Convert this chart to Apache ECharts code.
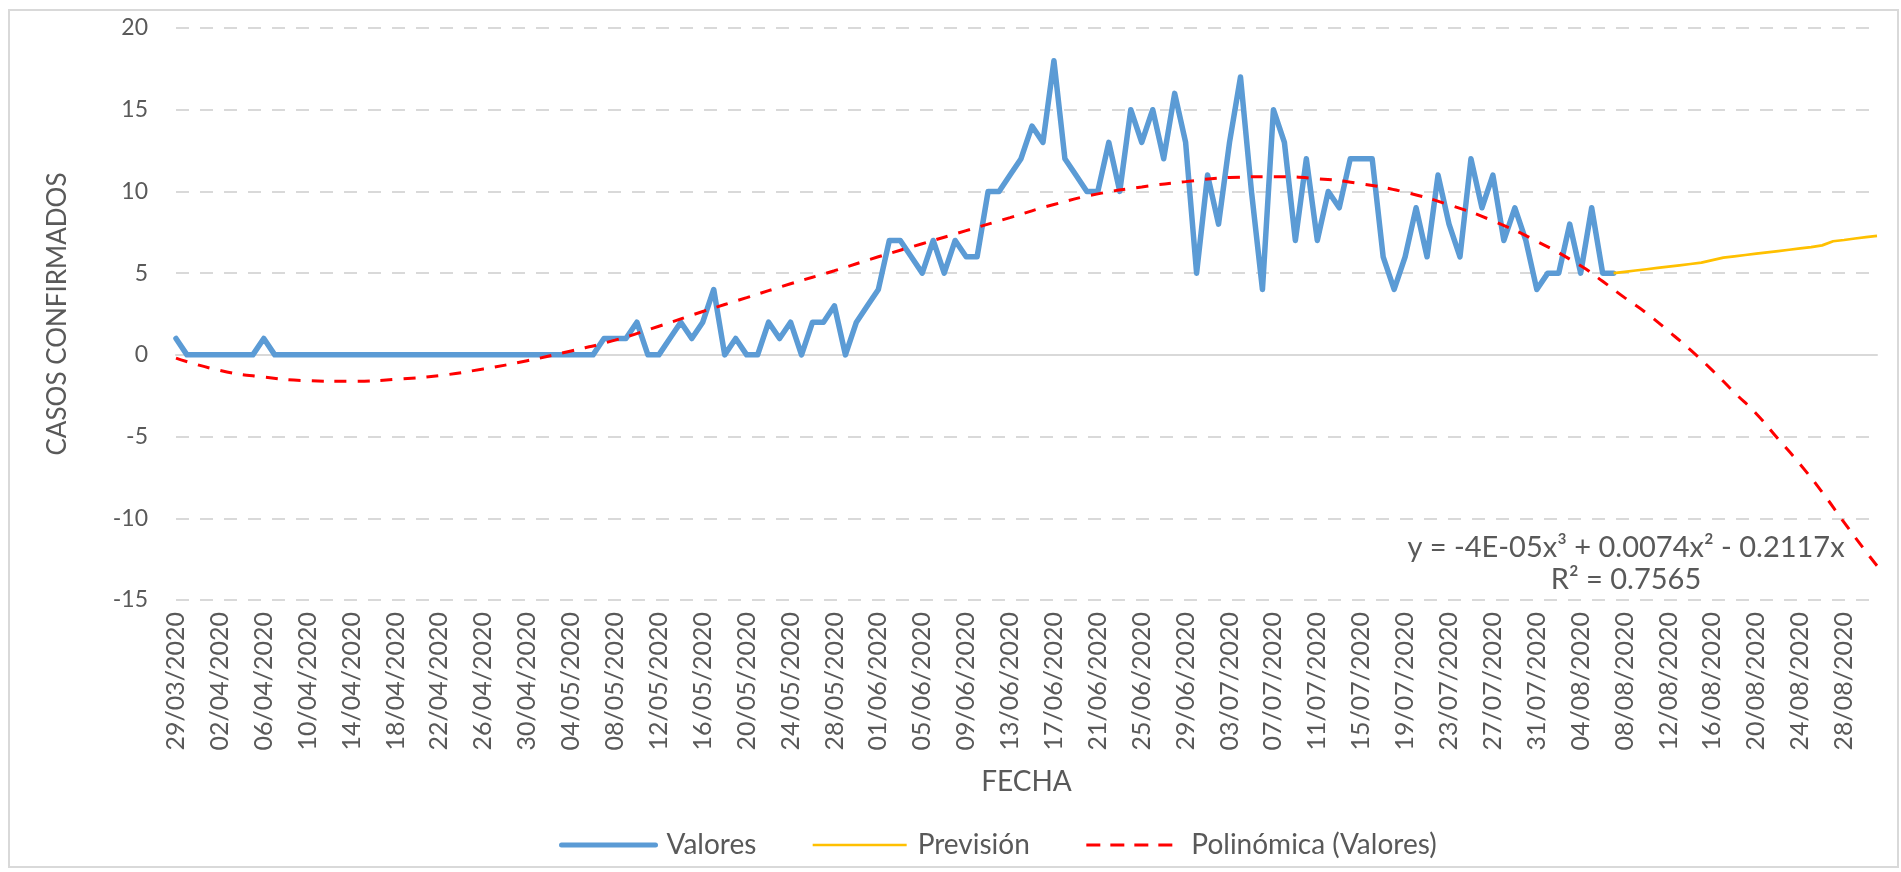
<!DOCTYPE html>
<html>
<head>
<meta charset="utf-8">
<title>Casos confirmados</title>
<script src="https://cdn.jsdelivr.net/npm/echarts@6/dist/echarts.min.js"></script>
<style>
    html, body { margin: 0; padding: 0; background: #fff; }
    #chart { width: 1901px; height: 872px; }
</style>
</head>
<body>
<div id="chart"></div>
<script>
// eje de fechas: un dia por categoria, del 29/03/2020 al 31/08/2020
var primerDia = [2020, 2, 29];
var numDias = 156;

// casos confirmados diarios (29/03 .. 07/08)
var valores = [
    1, 0, 0, 0, 0, 0, 0, 0, 1, 0,
    0, 0, 0, 0, 0, 0, 0, 0, 0, 0,
    0, 0, 0, 0, 0, 0, 0, 0, 0, 0,
    0, 0, 0, 0, 0, 0, 0, 0, 0, 1,
    1, 1, 2, 0, 0, 1, 2, 1, 2, 4,
    0, 1, 0, 0, 2, 1, 2, 0, 2, 2,
    3, 0, 2, 3, 4, 7, 7, 6, 5, 7,
    5, 7, 6, 6, 10, 10, 11, 12, 14, 13,
    18, 12, 11, 10, 10, 13, 10, 15, 13, 15,
    12, 16, 13, 5, 11, 8, 13, 17, 10, 4,
    15, 13, 7, 12, 7, 10, 9, 12, 12, 12,
    6, 4, 6, 9, 6, 11, 8, 6, 12, 9,
    11, 7, 9, 7, 4, 5, 5, 8, 5, 9,
    5, 5
];

// prevision, empieza el 07/08 (posicion 131)
var inicioPrevision = 131;
var prevision = [
    5.00, 5.08, 5.16, 5.24, 5.32, 5.40, 5.48, 5.56, 5.64, 5.80,
    5.95, 6.03, 6.11, 6.19, 6.27, 6.35, 6.43, 6.51, 6.59, 6.70,
    6.95, 7.03, 7.12, 7.20, 7.28
];

// linea de tendencia polinomica (posicion del dia, valor)
var tendDias = [0, 4, 8, 12, 16, 20, 24, 28, 32, 36, 40, 44, 48, 52, 56, 60,
    64, 68, 72, 76, 80, 84, 88, 92, 96, 100, 104, 108, 112, 116, 120, 124,
    128, 130, 132, 134, 136, 138, 140, 142, 144, 146, 148, 150, 152, 154, 155];
var tendValores = [-0.2, -0.95, -1.36, -1.58, -1.62, -1.5, -1.27, -0.86, -0.36, 0.24,
    0.9, 1.75, 2.65, 3.5, 4.35, 5.15, 6.0, 6.8, 7.6, 8.4,
    9.2, 9.85, 10.27, 10.6, 10.85, 10.9, 10.78, 10.47, 9.95, 9.18,
    8.2, 6.95, 5.45, 4.5, 3.5, 2.55, 1.45, 0.3, -0.95, -2.3,
    -3.6, -5.15, -6.7, -8.4, -10.25, -12.05, -12.9];

var yMin = -15;
var yMax = 20;
var yPaso = 5;

var ecuacion = 'y = -4E-05x³ + 0.0074x² - 0.2117x';
var r2 = 'R² = 0.7565';

var gris = '#595959';
var fuente = 'Lato';

function fechas() {
    var lista = []
    var d = new Date(primerDia[0], primerDia[1], primerDia[2], 12)
    for (let i = 0; i < numDias; i++) {
        var dd = ('0' + d.getDate()).slice(-2)
        var mm = ('0' + (d.getMonth() + 1)).slice(-2)
        lista.push(dd + '/' + mm + '/' + d.getFullYear())
        d.setDate(d.getDate() + 1)
    }
    return lista
}

function drawChart(chartDiv) {
    var dias = fechas();

    var datosPrevision = [];
    for (let i = 0; i < inicioPrevision; i++) {
        datosPrevision.push(null)
    }
    datosPrevision = datosPrevision.concat(prevision);

    var datosTend = [];
    for (let i = 0; i < tendDias.length; i++) {
        datosTend.push([tendDias[i], tendValores[i]])
    }

    var myChart = echarts.init(chartDiv);

    var option = {
        backgroundColor: '#fff',
        animation: false,
        textStyle: { fontFamily: fuente },
        grid: {
            left: 176,
            right: 24,
            top: 28,
            bottom: 272,
            outerBoundsMode: 'none'
        },
        legend: {
            data: [
                { name: 'Valores', itemStyle: { opacity: 0 }, lineStyle: { width: 5 } },
                { name: 'Previsión', itemStyle: { opacity: 0 }, lineStyle: { width: 2.7 } },
                { name: 'Polinómica (Valores)', itemStyle: { opacity: 0 }, lineStyle: { width: 3, type: [14, 10] } }
            ],
            left: 554,
            top: 826,
            itemWidth: 94,
            itemHeight: 14,
            itemGap: 55,
            textStyle: {
                fontSize: 28,
                color: gris,
                fontFamily: fuente,
                padding: [0, 0, 0, 6]
            }
        },
        xAxis: [
            {
                type: 'category',
                data: dias,
                boundaryGap: false,
                name: 'FECHA',
                nameLocation: 'middle',
                nameGap: 168,
                nameTextStyle: { fontSize: 28, color: gris, fontFamily: fuente },
                axisLine: { show: false, onZero: false },
                axisTick: { show: false },
                axisLabel: {
                    interval: 3,
                    rotate: 90,
                    fontSize: 25,
                    color: gris,
                    fontFamily: fuente,
                    margin: 12
                },
                splitLine: { show: false }
            },
            {
                // linea del cero
                type: 'category',
                data: dias,
                boundaryGap: false,
                position: 'top',
                axisLine: { show: true, onZero: true, lineStyle: { color: '#D9D9D9', width: 2 } },
                axisTick: { show: false },
                axisLabel: { show: false },
                splitLine: { show: false }
            }
        ],
        yAxis: {
            type: 'value',
            min: yMin,
            max: yMax,
            interval: yPaso,
            name: 'CASOS CONFIRMADOS',
            nameLocation: 'middle',
            nameGap: 105,
            nameTextStyle: { fontSize: 26, color: gris, fontFamily: fuente },
            axisLine: { show: false },
            axisTick: { show: false },
            axisLabel: { fontSize: 23, color: gris, fontFamily: fuente, margin: 28 },
            splitLine: {
                lineStyle: { color: '#D9D9D9', width: 2, type: [13, 11] }
            }
        },
        series: [
            {
                name: 'Valores',
                type: 'line',
                data: valores,
                symbol: 'none',
                z: 3,
                lineStyle: { color: '#5B9BD5', width: 5.5, join: 'round', cap: 'round' },
                itemStyle: { color: '#5B9BD5' }
            },
            {
                name: 'Previsión',
                type: 'line',
                data: datosPrevision,
                symbol: 'none',
                z: 3,
                lineStyle: { color: '#FFC000', width: 2.7 },
                itemStyle: { color: '#FFC000' }
            },
            {
                name: 'Polinómica (Valores)',
                type: 'line',
                data: datosTend,
                smooth: true,
                symbol: 'none',
                z: 4,
                lineStyle: { color: '#FF0000', width: 3, type: [12, 11] },
                itemStyle: { color: '#FF0000' }
            }
        ],
        graphic: [
            {
                type: 'rect',
                silent: true,
                shape: { x: 9, y: 10, width: 1889, height: 857 },
                style: { fill: 'none', stroke: '#D9D9D9', lineWidth: 2 }
            },
            {
                type: 'text',
                silent: true,
                z: 10,
                style: {
                    text: ecuacion + '\n' + r2,
                    x: 1626,
                    y: 564,
                    align: 'center',
                    verticalAlign: 'middle',
                    fontSize: 29,
                    lineHeight: 32,
                    fontFamily: fuente,
                    fill: gris
                }
            }
        ]
    };

    myChart.setOption(option);
}

drawChart(document.getElementById('chart'));
</script>
</body>
</html>
